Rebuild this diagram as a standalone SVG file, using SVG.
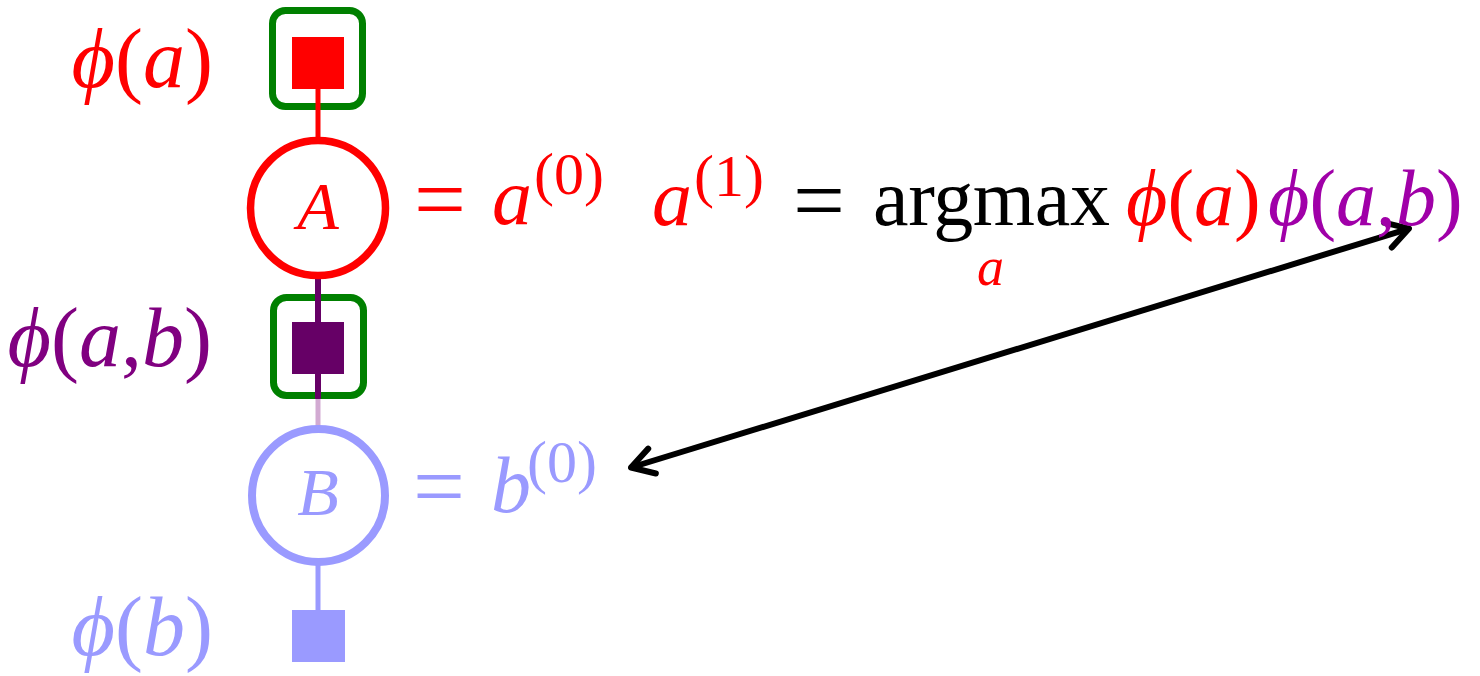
<svg xmlns="http://www.w3.org/2000/svg" width="1480" height="676" viewBox="0 0 1480 676">
<style>
  text { font-family: "Liberation Serif", "Times New Roman", serif; }
  .it { font-style: italic; }
  .up { font-style: normal; }
  .lbl { font-size: 84px; }
  .big { font-size: 80px; }
  .eq { font-size: 92px; }
  .sup { font-size: 60px; }
  .sub { font-size: 54px; }
  .node { font-size: 68px; font-style: italic; text-anchor: middle; }
  .red { fill: #ff0000; }
  .purple { fill: #800080; }
  .magenta { fill: #a000a8; }
  .faint { fill: #9a9aff; }
  .box { fill: none; stroke: #008000; stroke-width: 7; }
</style>
<defs>
  <marker id="head" markerUnits="userSpaceOnUse" viewBox="-28 -18 36 36" markerWidth="36" markerHeight="36" refX="0" refY="0" orient="auto-start-reverse">
    <path d="M -22 -13 L 0 0 L -22 13" fill="none" stroke="#000" stroke-width="6" stroke-linecap="round" stroke-linejoin="round"/>
  </marker>
</defs>

<!-- factor phi(a) -->
<g id="factor-a">
  <rect class="box" x="272.5" y="10.5" width="90" height="96" rx="13"/>
  <rect x="292" y="37" width="52" height="52" fill="#ff0000"/>
  <text class="lbl red" x="213" y="87" text-anchor="end"><tspan class="it">ϕ</tspan><tspan class="up">(</tspan><tspan class="it">a</tspan><tspan class="up">)</tspan></text>
</g>

<!-- factor phi(a,b) frame -->
<g id="factor-ab">
  <rect class="box" x="273.5" y="297.5" width="90" height="98" rx="13"/>
</g>

<!-- connectors -->
<g id="connectors">
  <line x1="318" y1="89" x2="318" y2="141" stroke="#ff0000" stroke-width="5"/>
  <line x1="318" y1="274" x2="318" y2="399" stroke="#660066" stroke-width="6"/>
  <line x1="318" y1="399" x2="318" y2="430" stroke="#d2aad2" stroke-width="5"/>
  <line x1="318" y1="562" x2="318" y2="611" stroke="#9a9aff" stroke-width="5"/>
  <line x1="631" y1="467.5" x2="1409" y2="228.6" stroke="#000" stroke-width="6" marker-start="url(#head)" marker-end="url(#head)"/>
</g>

<g id="factor-ab-square">
  <rect x="292" y="322" width="52" height="52" fill="#660066"/>
  <text class="lbl purple" x="212" y="366" text-anchor="end"><tspan class="it">ϕ</tspan><tspan class="up">(</tspan><tspan class="it">a</tspan><tspan class="up">,</tspan><tspan class="it">b</tspan><tspan class="up">)</tspan></text>
</g>

<!-- variable A -->
<g id="var-A">
  <circle cx="318" cy="208" r="67.5" fill="#ffffff" stroke="#ff0000" stroke-width="7.5"/>
  <text class="node red" x="318" y="229">A</text>
  <text class="eq red up" x="414" y="230" textLength="52" lengthAdjust="spacingAndGlyphs">=</text>
  <text class="big red it" x="492" y="224">a</text>
  <text class="sup red up" x="534" y="194">(0)</text>
</g>

<!-- variable B (faded) -->
<g id="var-B">
  <circle cx="318.5" cy="495.5" r="66.5" fill="#ffffff" stroke="#9a9aff" stroke-width="8"/>
  <text class="node faint" x="318" y="515">B</text>
  <text class="eq faint up" x="413" y="517" textLength="52" lengthAdjust="spacingAndGlyphs">=</text>
  <text class="big faint it" x="491" y="512">b</text>
  <text class="sup faint up" x="527" y="482">(0)</text>
</g>

<!-- factor phi(b) (faded) -->
<g id="factor-b">
  <rect x="292" y="610" width="53" height="52" fill="#9a9aff"/>
  <text class="lbl faint" x="213" y="655" text-anchor="end"><tspan class="it">ϕ</tspan><tspan class="up">(</tspan><tspan class="it">b</tspan><tspan class="up">)</tspan></text>
</g>

<!-- update equation -->
<g id="equation">
  <text class="big red it" x="652" y="225">a</text>
  <text class="sup red up" x="694" y="196">(1)</text>
  <text class="eq up" x="793" y="231" fill="#000" textLength="52" lengthAdjust="spacingAndGlyphs">=</text>
  <text class="big up" x="873" y="225" fill="#000" textLength="237" lengthAdjust="spacing">argmax</text>
  <text class="sub red it" x="977" y="285">a</text>
  <text class="big red" x="1126" y="225"><tspan class="it">ϕ</tspan><tspan class="up">(</tspan><tspan class="it">a</tspan><tspan class="up">)</tspan></text>
  <text class="big magenta" x="1268" y="225"><tspan class="it">ϕ</tspan><tspan class="up">(</tspan><tspan class="it">a</tspan><tspan class="up">,</tspan><tspan class="it">b</tspan><tspan class="up">)</tspan></text>
</g>
</svg>
